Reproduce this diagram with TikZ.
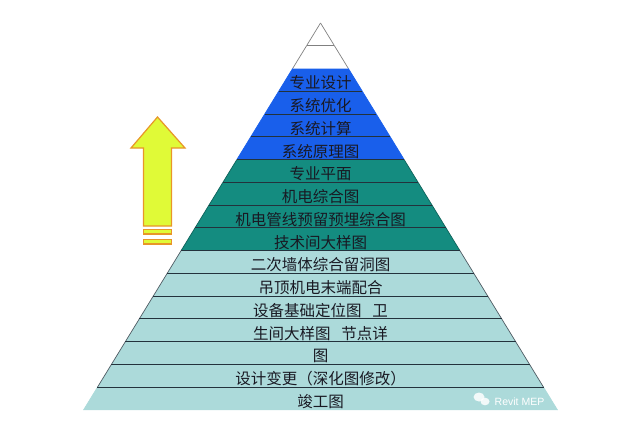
\documentclass[tikz,border=0pt]{standalone}
\usepackage{fontspec}
\newfontfamily\cjk{Noto Sans CJK SC}
\newfontfamily\wm{Liberation Sans}
\definecolor{pblue}{RGB}{25,95,235}
\definecolor{pteal}{RGB}{20,140,128}
\definecolor{plight}{RGB}{172,218,218}
\definecolor{sepc}{RGB}{35,50,60}
\definecolor{arrfill}{RGB}{224,250,55}
\definecolor{arredge}{RGB}{232,150,40}
\definecolor{txtc}{RGB}{25,25,35}
\tikzset{
  lbl/.style={font=\cjk\fontsize{15.5}{16}\selectfont, text=txtc, inner sep=0pt, anchor=center},
  sepline/.style={draw=sepc, line width=1pt},
  arrowshape/.style={fill=arrfill, draw=arredge, line width=1.2pt, line join=miter},
}
\begin{document}
\begin{tikzpicture}[x=1pt,y=-1pt]
\useasboundingbox (0,0) rectangle (626,433);
\def\cx{320.5}
\def\dy{22.765}
\def\sl{0.6124}
% bands
\foreach \i/\c/\e in {0/white/gray,1/white/gray,2/pblue/pblue,3/pblue/pblue,4/pblue/pblue,5/pblue/pblue,
  6/pteal/pteal!70!black,7/pteal/pteal!70!black,8/pteal/pteal!70!black,9/pteal/pteal!70!black,
  10/plight/sepc!80,11/plight/sepc!80,12/plight/sepc!80,13/plight/sepc!80,14/plight/sepc!80,15/plight/sepc!80,16/plight/plight}{
  \pgfmathsetmacro\ya{23+\i*\dy}
  \pgfmathsetmacro\yb{23+(\i+1)*\dy}
  \pgfmathsetmacro\wa{(\ya-23)*\sl}
  \pgfmathsetmacro\wb{(\yb-23)*\sl}
  \fill[\c] (\cx-\wa,\ya) -- (\cx+\wa,\ya) -- (\cx+\wb,\yb) -- (\cx-\wb,\yb) -- cycle;
  \draw[\e, line width=0.7pt] (\cx-\wa,\ya) -- (\cx-\wb,\yb);
  \draw[\e, line width=0.7pt] (\cx+\wa,\ya) -- (\cx+\wb,\yb);
}
% separators
\pgfmathsetmacro\ya{23+\dy}
\pgfmathsetmacro\wa{\dy*\sl}
\draw[gray, line width=0.8pt] (\cx-\wa,\ya) -- (\cx+\wa,\ya);
\foreach \i in {3,...,16}{
  \pgfmathsetmacro\ya{23+\i*\dy}
  \pgfmathsetmacro\wa{(\ya-23)*\sl}
  \draw[sepline] (\cx-\wa,\ya) -- (\cx+\wa,\ya);
}
% labels
\foreach \i/\t in {2/专业设计,3/系统优化,4/系统计算,5/系统原理图,6/专业平面,7/机电综合图,
  8/机电管线预留预埋综合图,9/技术间大样图,10/二次墙体综合留洞图,11/吊顶机电末端配合,
  12/设备基础定位图\hspace{0.7em}卫,13/生间大样图\hspace{0.7em}节点详,14/图,
  15/设计变更（深化图修改）,16/竣工图}{
  \node[lbl] (t\i) at (\cx, {23+(\i+0.5)*\dy+3}) {\t};
}
% arrow
\draw[arrowshape] (157.5,117) -- (185,148) -- (171.5,148) -- (171.5,226) -- (143.5,226)
  -- (143.5,148) -- (131,148) -- cycle;
\draw[arrowshape] (143.5,229.5) rectangle (171.5,234);
\draw[arrowshape] (143.5,239.5) rectangle (171.5,244);
% watermark
\fill[white, opacity=0.85] (479,397) ellipse [x radius=5.5, y radius=4.5];
\fill[white, opacity=0.85] (485,401.5) ellipse [x radius=4.5, y radius=3.8];
\node[font=\wm\fontsize{10.5}{11}\selectfont, text=white, inner sep=0pt] (wmk) at (519.5,401.5) {Revit MEP};
\end{tikzpicture}
\end{document}
